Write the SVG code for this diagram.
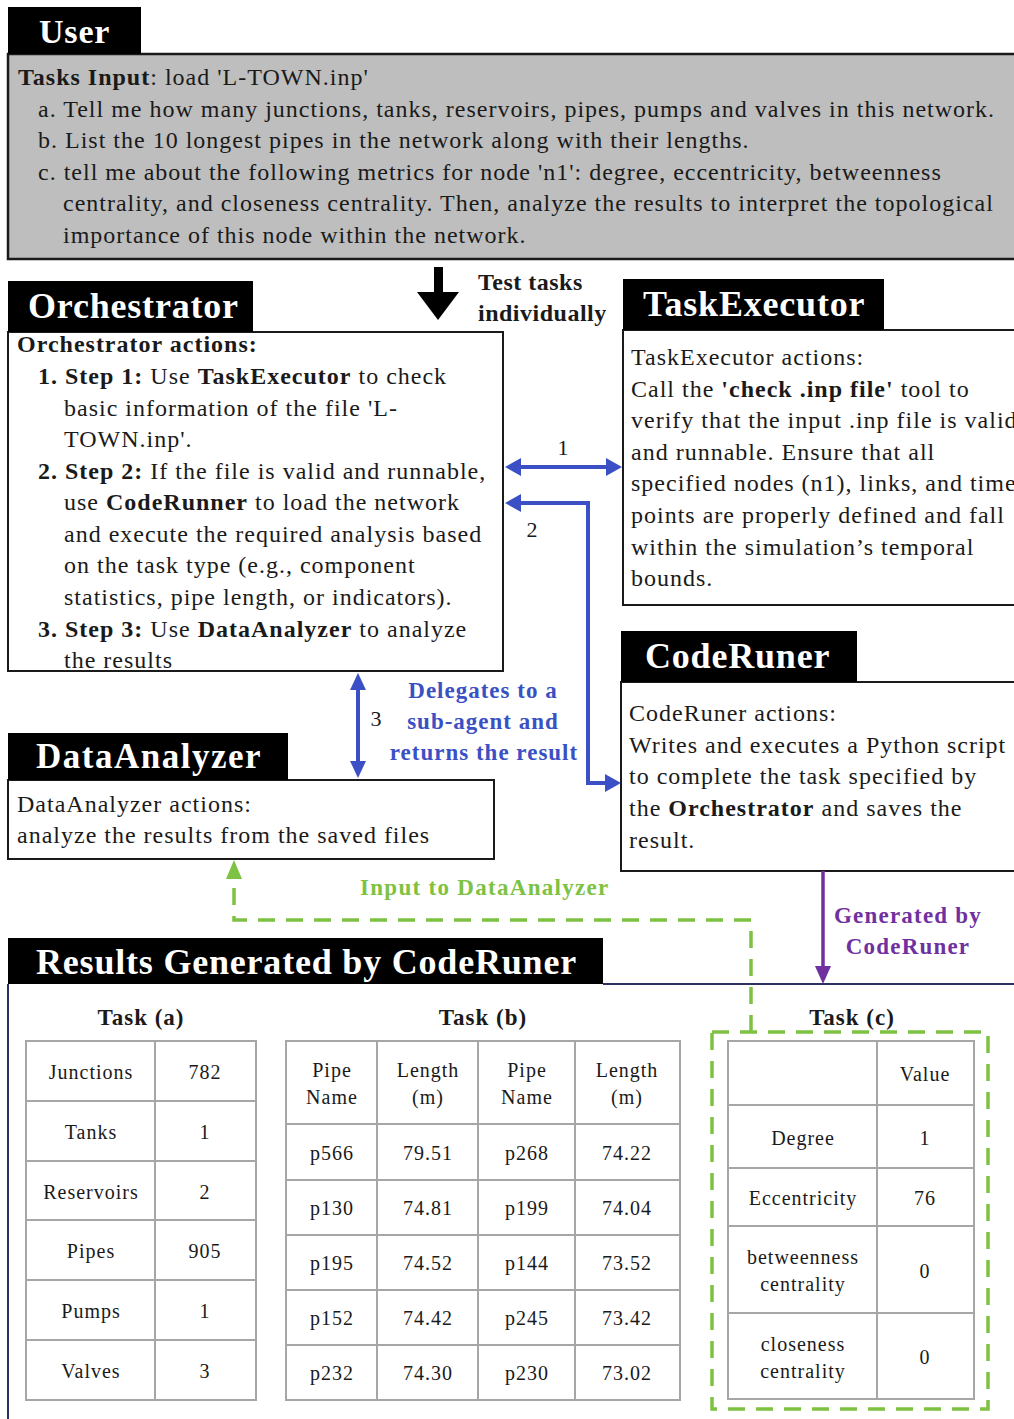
<svg xmlns="http://www.w3.org/2000/svg" width="1014" height="1419" viewBox="0 0 1014 1419">
  <style>
    text { font-family: "Liberation Serif", "Times New Roman", serif; fill: #1a1a1a; }
    .hdr { fill: #ffffff; font-weight: bold; letter-spacing: 0.8px; }
    .hbox { fill: #000000; }
    .box { fill: #ffffff; stroke: #1a1a1a; stroke-width: 2; }
    .body { font-size: 24px; letter-spacing: 1px; }
    .b { font-weight: bold; }
    .blue { stroke: #3a50c4; stroke-width: 4; fill: none; }
    .bluef { fill: #3a50c4; }
    .bluet { fill: #3a50c4; font-weight: bold; font-size: 23px; letter-spacing: 1px; }
    .green { stroke: #7dc242; stroke-width: 3.5; fill: none; stroke-dasharray: 17 11; }
    .greenf { fill: #7dc242; }
    .greent { fill: #7dc242; font-weight: bold; font-size: 23px; letter-spacing: 1.3px; }
    .purple { stroke: #7030a0; stroke-width: 3.5; fill: none; }
    .purplet { fill: #7030a0; font-weight: bold; font-size: 23px; letter-spacing: 1.2px; }
    .cell { fill: #ffffff; stroke: #a6a6a6; stroke-width: 2; }
    .tt { font-size: 20px; text-anchor: middle; letter-spacing: 1px; }
    .cap { font-size: 23px; font-weight: bold; text-anchor: middle; letter-spacing: 1px; }
    .num { font-size: 22px; text-anchor: middle; }
  </style>

  <!-- User request -->
  <g id="user">
    <rect x="8" y="54" width="1010" height="205" fill="#bebebe" stroke="#1a1a1a" stroke-width="2.5"/>
    <rect class="hbox" x="8" y="7" width="133" height="47"/>
    <text class="hdr" x="39" y="43" font-size="34">User</text>
    <text class="body" x="18" y="85"><tspan class="b">Tasks Input</tspan>: load 'L-TOWN.inp'</text>
    <text class="body" x="38" y="117">a. Tell me how many junctions, tanks, reservoirs, pipes, pumps and valves in this network.</text>
    <text class="body" x="38" y="148">b. List the 10 longest pipes in the network along with their lengths.</text>
    <text class="body" x="38" y="180">c. tell me about the following metrics for node 'n1': degree, eccentricity, betweenness</text>
    <text class="body" x="63" y="211">centrality, and closeness centrality. Then, analyze the results to interpret the topological</text>
    <text class="body" x="63" y="243">importance of this node within the network.</text>
  </g>

  <!-- Orchestrator -->
  <g id="orchestrator">
    <rect class="box" x="8" y="332" width="495" height="339"/>
    <rect class="hbox" x="8" y="281" width="245" height="51"/>
    <text class="hdr" x="28" y="318" font-size="36">Orchestrator</text>
    <text class="body b" x="17" y="352">Orchestrator actions:</text>
    <text class="body" x="38" y="384"><tspan class="b">1. Step 1:</tspan> Use <tspan class="b">TaskExecutor</tspan> to check</text>
    <text class="body" x="64" y="416">basic information of  the file 'L-</text>
    <text class="body" x="64" y="447">TOWN.inp'.</text>
    <text class="body" x="38" y="479"><tspan class="b">2. Step 2:</tspan> If the file is valid and runnable,</text>
    <text class="body" x="64" y="510">use <tspan class="b">CodeRunner</tspan> to load the network</text>
    <text class="body" x="64" y="542">and execute the required analysis based</text>
    <text class="body" x="64" y="573">on the task type (e.g., component</text>
    <text class="body" x="64" y="605">statistics, pipe length, or indicators).</text>
    <text class="body" x="38" y="637"><tspan class="b">3. Step 3:</tspan> Use <tspan class="b">DataAnalyzer</tspan> to analyze</text>
    <text class="body" x="64" y="668">the results</text>
  </g>

  <!-- TaskExecutor -->
  <g id="taskexecutor">
    <rect class="box" x="623" y="330" width="400" height="275"/>
    <rect class="hbox" x="623" y="279" width="261" height="51"/>
    <text class="hdr" x="643" y="316" font-size="36">TaskExecutor</text>
    <text class="body" x="631" y="365">TaskExecutor actions:</text>
    <text class="body" x="631" y="397">Call the <tspan class="b">'check .inp file'</tspan> tool to</text>
    <text class="body" x="631" y="428">verify that the input .inp file is valid</text>
    <text class="body" x="631" y="460">and runnable. Ensure that all</text>
    <text class="body" x="631" y="491">specified nodes (n1), links, and time</text>
    <text class="body" x="631" y="523">points are properly defined and fall</text>
    <text class="body" x="631" y="555">within the simulation’s temporal</text>
    <text class="body" x="631" y="586">bounds.</text>
  </g>

  <!-- CodeRuner -->
  <g id="coderuner">
    <rect class="box" x="621" y="682" width="400" height="189"/>
    <rect class="hbox" x="621" y="631" width="236" height="51"/>
    <text class="hdr" x="645" y="668" font-size="36">CodeRuner</text>
    <text class="body" x="629" y="721">CodeRuner actions:</text>
    <text class="body" x="629" y="753">Writes and executes a Python script</text>
    <text class="body" x="629" y="784">to complete the task specified by</text>
    <text class="body" x="629" y="816">the <tspan class="b">Orchestrator</tspan> and saves the</text>
    <text class="body" x="629" y="848">result.</text>
  </g>

  <!-- DataAnalyzer -->
  <g id="dataanalyzer">
    <rect class="box" x="8" y="780" width="486" height="79"/>
    <rect class="hbox" x="8" y="733" width="280" height="47"/>
    <text class="hdr" x="36" y="768" font-size="35" style="letter-spacing:1.5px">DataAnalyzer</text>
    <text class="body" x="17" y="812">DataAnalyzer actions:</text>
    <text class="body" x="17" y="843">analyze the results from the saved files</text>
  </g>

  <!-- Results panel -->
  <g id="results">
    <path d="M 8 984 V 1419 M 603 984 H 1014" stroke="#2b3163" stroke-width="2" fill="none"/>
    <rect class="hbox" x="8" y="938" width="595" height="46"/>
    <text class="hdr" x="36" y="974" font-size="36">Results Generated by CodeRuner</text>
  </g>

  <!-- Task (a) table -->
  <g id="task-a">
    <text class="cap" x="141" y="1025">Task (a)</text>
    <g class="cell">
      <rect x="26" y="1041" width="129" height="60"/><rect x="155" y="1041" width="101" height="60"/>
      <rect x="26" y="1101" width="129" height="60"/><rect x="155" y="1101" width="101" height="60"/>
      <rect x="26" y="1161" width="129" height="59"/><rect x="155" y="1161" width="101" height="59"/>
      <rect x="26" y="1220" width="129" height="60"/><rect x="155" y="1220" width="101" height="60"/>
      <rect x="26" y="1280" width="129" height="60"/><rect x="155" y="1280" width="101" height="60"/>
      <rect x="26" y="1340" width="129" height="60"/><rect x="155" y="1340" width="101" height="60"/>
    </g>
    <text class="tt" x="91" y="1079">Junctions</text><text class="tt" x="205" y="1079">782</text>
    <text class="tt" x="91" y="1139">Tanks</text><text class="tt" x="205" y="1139">1</text>
    <text class="tt" x="91" y="1199">Reservoirs</text><text class="tt" x="205" y="1199">2</text>
    <text class="tt" x="91" y="1258">Pipes</text><text class="tt" x="205" y="1258">905</text>
    <text class="tt" x="91" y="1318">Pumps</text><text class="tt" x="205" y="1318">1</text>
    <text class="tt" x="91" y="1378">Valves</text><text class="tt" x="205" y="1378">3</text>
  </g>

  <!-- Task (b) table -->
  <g id="task-b">
    <text class="cap" x="483" y="1025">Task (b)</text>
    <g class="cell">
      <rect x="286" y="1041" width="91" height="83"/><rect x="377" y="1041" width="101" height="83"/><rect x="478" y="1041" width="97" height="83"/><rect x="575" y="1041" width="105" height="83"/>
      <rect x="286" y="1124" width="91" height="56"/><rect x="377" y="1124" width="101" height="56"/><rect x="478" y="1124" width="97" height="56"/><rect x="575" y="1124" width="105" height="56"/>
      <rect x="286" y="1180" width="91" height="55"/><rect x="377" y="1180" width="101" height="55"/><rect x="478" y="1180" width="97" height="55"/><rect x="575" y="1180" width="105" height="55"/>
      <rect x="286" y="1235" width="91" height="55"/><rect x="377" y="1235" width="101" height="55"/><rect x="478" y="1235" width="97" height="55"/><rect x="575" y="1235" width="105" height="55"/>
      <rect x="286" y="1290" width="91" height="55"/><rect x="377" y="1290" width="101" height="55"/><rect x="478" y="1290" width="97" height="55"/><rect x="575" y="1290" width="105" height="55"/>
      <rect x="286" y="1345" width="91" height="55"/><rect x="377" y="1345" width="101" height="55"/><rect x="478" y="1345" width="97" height="55"/><rect x="575" y="1345" width="105" height="55"/>
    </g>
    <text class="tt" x="332" y="1077">Pipe</text><text class="tt" x="332" y="1104">Name</text>
    <text class="tt" x="428" y="1077">Length</text><text class="tt" x="428" y="1104">(m)</text>
    <text class="tt" x="527" y="1077">Pipe</text><text class="tt" x="527" y="1104">Name</text>
    <text class="tt" x="627" y="1077">Length</text><text class="tt" x="627" y="1104">(m)</text>
    <text class="tt" x="332" y="1160">p566</text><text class="tt" x="428" y="1160">79.51</text><text class="tt" x="527" y="1160">p268</text><text class="tt" x="627" y="1160">74.22</text>
    <text class="tt" x="332" y="1215">p130</text><text class="tt" x="428" y="1215">74.81</text><text class="tt" x="527" y="1215">p199</text><text class="tt" x="627" y="1215">74.04</text>
    <text class="tt" x="332" y="1270">p195</text><text class="tt" x="428" y="1270">74.52</text><text class="tt" x="527" y="1270">p144</text><text class="tt" x="627" y="1270">73.52</text>
    <text class="tt" x="332" y="1325">p152</text><text class="tt" x="428" y="1325">74.42</text><text class="tt" x="527" y="1325">p245</text><text class="tt" x="627" y="1325">73.42</text>
    <text class="tt" x="332" y="1380">p232</text><text class="tt" x="428" y="1380">74.30</text><text class="tt" x="527" y="1380">p230</text><text class="tt" x="627" y="1380">73.02</text>
  </g>

  <!-- Task (c) table -->
  <g id="task-c">
    <text class="cap" x="852" y="1025">Task (c)</text>
    <g class="cell">
      <rect x="728" y="1041" width="149" height="64"/><rect x="877" y="1041" width="97" height="64"/>
      <rect x="728" y="1105" width="149" height="63"/><rect x="877" y="1105" width="97" height="63"/>
      <rect x="728" y="1168" width="149" height="58"/><rect x="877" y="1168" width="97" height="58"/>
      <rect x="728" y="1226" width="149" height="87"/><rect x="877" y="1226" width="97" height="87"/>
      <rect x="728" y="1313" width="149" height="86"/><rect x="877" y="1313" width="97" height="86"/>
    </g>
    <text class="tt" x="925" y="1081">Value</text>
    <text class="tt" x="803" y="1145">Degree</text><text class="tt" x="925" y="1145">1</text>
    <text class="tt" x="803" y="1205">Eccentricity</text><text class="tt" x="925" y="1205">76</text>
    <text class="tt" x="803" y="1264">betweenness</text><text class="tt" x="803" y="1291">centrality</text><text class="tt" x="925" y="1278">0</text>
    <text class="tt" x="803" y="1351">closeness</text><text class="tt" x="803" y="1378">centrality</text><text class="tt" x="925" y="1364">0</text>
  </g>

  <!-- Connectors -->
  <g id="connectors">
    <!-- user to orchestrator -->
    <rect x="434" y="267" width="9" height="27" fill="#000"/>
    <polygon points="417,292 459,292 438,320" fill="#000"/>
    <text class="b" x="478" y="290" font-size="24" style="letter-spacing:0.5px">Test tasks</text>
    <text class="b" x="478" y="321" font-size="24" style="letter-spacing:0.5px">individually</text>

    <!-- 1: orchestrator <-> taskexecutor -->
    <line class="blue" x1="518" y1="467" x2="609" y2="467"/>
    <polygon class="bluef" points="505,467 521,458 521,476"/>
    <polygon class="bluef" points="622,467 606,458 606,476"/>
    <text class="num" x="563" y="455">1</text>

    <!-- 2: orchestrator <-> coderuner -->
    <path class="blue" d="M 608 783 H 588 V 503 H 518"/>
    <polygon class="bluef" points="505,503 521,494 521,512"/>
    <polygon class="bluef" points="621,783 605,774 605,792"/>
    <text class="num" x="532" y="537">2</text>

    <!-- 3: orchestrator <-> dataanalyzer -->
    <line class="blue" x1="358" y1="686" x2="358" y2="765"/>
    <polygon class="bluef" points="358,673 350,690 366,690"/>
    <polygon class="bluef" points="358,778 350,761 366,761"/>
    <text class="num" x="376" y="726">3</text>
    <text class="bluet" x="483" y="698" text-anchor="middle">Delegates to a</text>
    <text class="bluet" x="483" y="729" text-anchor="middle">sub-agent and</text>
    <text class="bluet" x="484" y="760" text-anchor="middle">returns the result</text>

    <!-- coderuner to results -->
    <line class="purple" x1="823" y1="871" x2="823" y2="968"/>
    <polygon fill="#7030a0" points="823,984 815,966 831,966"/>
    <text class="purplet" x="908" y="923" text-anchor="middle">Generated by</text>
    <text class="purplet" x="908" y="954" text-anchor="middle">CodeRuner</text>

    <!-- task (c) results to dataanalyzer -->
    <rect class="green" x="712" y="1032" width="276" height="377"/>
    <path class="green" d="M 751 1032 V 920 H 234 V 880"/>
    <polygon class="greenf" points="234,860 226,879 242,879"/>
    <text class="greent" x="360" y="895">Input to DataAnalyzer</text>
  </g>
</svg>
